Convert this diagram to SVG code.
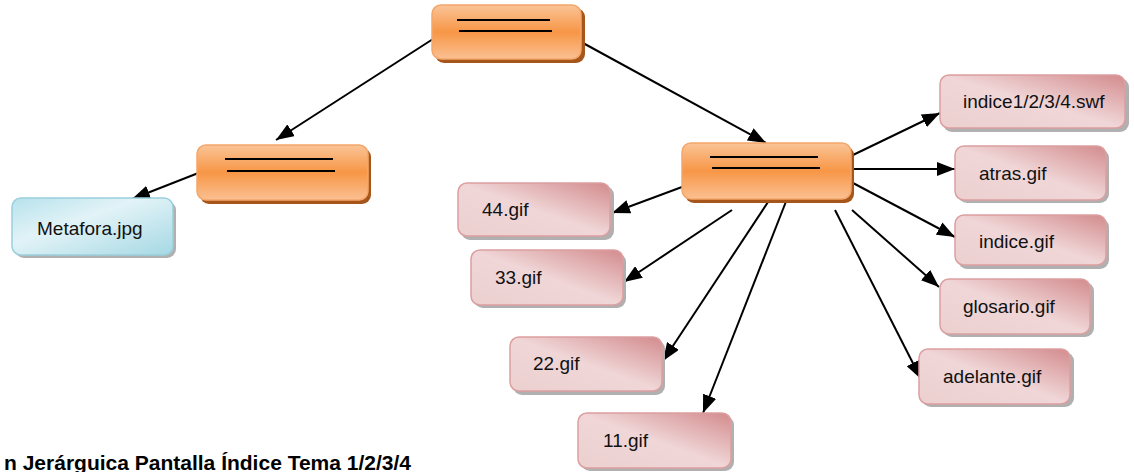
<svg xmlns="http://www.w3.org/2000/svg" width="1134" height="472" viewBox="0 0 1134 472">
<defs>
<linearGradient id="gOr" x1="0" y1="0" x2="0" y2="1">
<stop offset="0" stop-color="#fac497"/>
<stop offset="0.5" stop-color="#f79646"/>
<stop offset="1" stop-color="#fbc092"/>
</linearGradient>
<linearGradient id="gPk" x1="1" y1="0" x2="0" y2="1">
<stop offset="0" stop-color="#d38b8d"/>
<stop offset="0.5" stop-color="#f0d6d7"/>
<stop offset="1" stop-color="#ecd0d0"/>
</linearGradient>
<linearGradient id="gBl" x1="0" y1="0" x2="1" y2="1">
<stop offset="0" stop-color="#b7e2ec"/>
<stop offset="0.4" stop-color="#e2f3f7"/>
<stop offset="1" stop-color="#a5d8e4"/>
</linearGradient>
<marker id="ah" viewBox="0 0 18 14" refX="18" refY="7" markerWidth="18" markerHeight="14" markerUnits="userSpaceOnUse" orient="auto">
<path d="M0,0 L18,7 L0,14 Z" fill="#000"/>
</marker>
</defs>
<style>
.sh-o{fill:#a6561b}
.sh-g{fill:#b0b0b0}
.or{fill:url(#gOr);stroke:#f5a66a;stroke-width:1.5}
.pk{fill:url(#gPk);stroke:#dc9fa0;stroke-width:1.5}
.bl{fill:url(#gBl);stroke:#9bd0dd;stroke-width:1.5}
.bar{stroke:#000;stroke-width:2}
.t{font-family:"Liberation Sans",Arial,sans-serif;font-size:19px;fill:#111}
.c{stroke:#000;stroke-width:2;fill:none;marker-end:url(#ah)}
.title{font-family:"Liberation Sans",Arial,sans-serif;font-size:21px;font-weight:bold;fill:#000}
</style>

<g id="connectors">
<line class="c" x1="433" y1="39" x2="276" y2="140"/>
<line class="c" x1="583" y1="43" x2="766" y2="143"/>
<line class="c" x1="206" y1="170" x2="132" y2="199"/>
<line class="c" x1="682" y1="187" x2="612" y2="213"/>
<line class="c" x1="732" y1="210" x2="624" y2="282"/>
<line class="c" x1="770" y1="199" x2="663" y2="361"/>
<line class="c" x1="787" y1="199" x2="703" y2="413"/>
<line class="c" x1="835" y1="210" x2="921" y2="379"/>
<line class="c" x1="852" y1="210" x2="939" y2="287"/>
<line class="c" x1="853" y1="183" x2="955" y2="237"/>
<line class="c" x1="853" y1="169" x2="955" y2="169"/>
<line class="c" x1="853" y1="155" x2="940" y2="113"/>
</g>

<g id="root">
<rect class="sh-o" x="435" y="8" width="150" height="55" rx="9"/>
<rect class="or" x="432" y="5" width="149" height="54" rx="9"/>
<line class="bar" x1="457" y1="20" x2="550" y2="20"/>
<line class="bar" x1="459" y1="31" x2="552" y2="31"/>
</g>

<g id="left">
<rect class="sh-o" x="200" y="148" width="171" height="56" rx="9"/>
<rect class="or" x="197" y="145" width="171" height="55" rx="9"/>
<line class="bar" x1="225" y1="159" x2="333" y2="159"/>
<line class="bar" x1="227" y1="171" x2="335" y2="171"/>
</g>

<g id="right">
<rect class="sh-o" x="685" y="146" width="169" height="57" rx="9"/>
<rect class="or" x="682" y="143" width="169" height="56" rx="9"/>
<line class="bar" x1="710" y1="157" x2="818" y2="157"/>
<line class="bar" x1="712" y1="168" x2="820" y2="168"/>
</g>

<g id="metafora">
<rect class="sh-g" x="15" y="201" width="161" height="57" rx="9"/>
<rect class="bl" x="12" y="198" width="161" height="57" rx="9"/>
<text class="t" x="37" y="235">Metafora.jpg</text>
</g>

<g id="indice1234">
<rect class="sh-g" x="943" y="78" width="186" height="54" rx="9"/>
<rect class="pk" x="940" y="75" width="185" height="53" rx="9"/>
<text class="t" x="963" y="108">indice1/2/3/4.swf</text>
</g>

<g id="atras">
<rect class="sh-g" x="958" y="149" width="151" height="54" rx="9"/>
<rect class="pk" x="955" y="146" width="151" height="54" rx="9"/>
<text class="t" x="979" y="180">atras.gif</text>
</g>

<g id="indice">
<rect class="sh-g" x="958" y="218" width="151" height="51" rx="9"/>
<rect class="pk" x="955" y="215" width="151" height="50" rx="9"/>
<text class="t" x="979" y="248">indice.gif</text>
</g>

<g id="glosario">
<rect class="sh-g" x="943" y="282" width="151" height="55" rx="9"/>
<rect class="pk" x="940" y="279" width="150" height="55" rx="9"/>
<text class="t" x="963" y="313">glosario.gif</text>
</g>

<g id="adelante">
<rect class="sh-g" x="922" y="352" width="152" height="55" rx="9"/>
<rect class="pk" x="919" y="349" width="151" height="55" rx="9"/>
<text class="t" x="943" y="383">adelante.gif</text>
</g>

<g id="g44">
<rect class="sh-g" x="461" y="186" width="153" height="54" rx="9"/>
<rect class="pk" x="458" y="183" width="152" height="53" rx="9"/>
<text class="t" x="482" y="216">44.gif</text>
</g>

<g id="g33">
<rect class="sh-g" x="474" y="253" width="152" height="55" rx="9"/>
<rect class="pk" x="471" y="250" width="152" height="55" rx="9"/>
<text class="t" x="495" y="284">33.gif</text>
</g>

<g id="g22">
<rect class="sh-g" x="513" y="340" width="152" height="55" rx="9"/>
<rect class="pk" x="510" y="337" width="152" height="54" rx="9"/>
<text class="t" x="533" y="370">22.gif</text>
</g>

<g id="g11">
<rect class="sh-g" x="581" y="416" width="153" height="55" rx="9"/>
<rect class="pk" x="578" y="413" width="153" height="55" rx="9"/>
<text class="t" x="603" y="447">11.gif</text>
</g>

<text class="title" x="411" y="470" text-anchor="end">n Jerárguica Pantalla Índice Tema 1/2/3/4</text>
</svg>
